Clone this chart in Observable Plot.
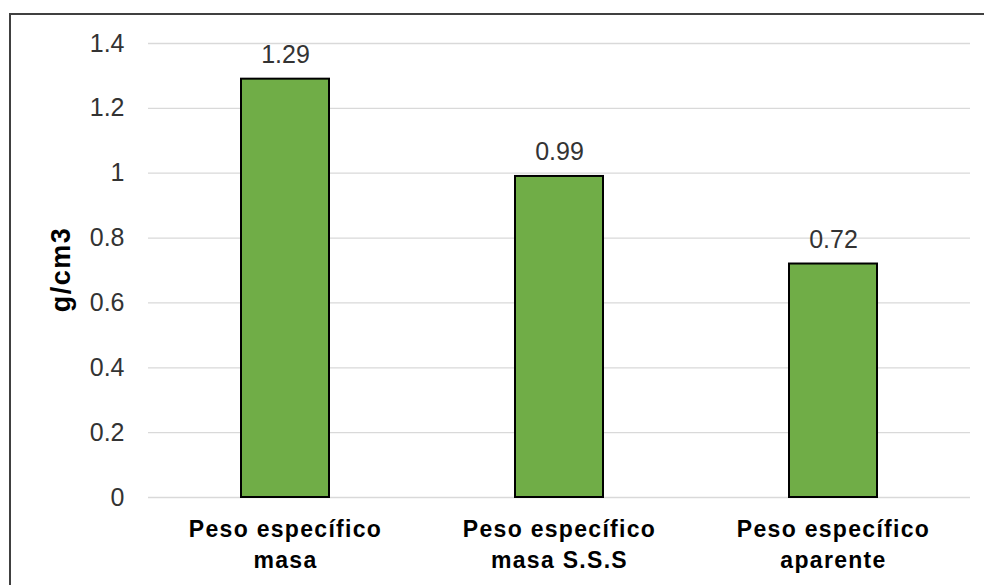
<!DOCTYPE html>
<html>
<head>
<meta charset="utf-8">
<script src="https://cdn.jsdelivr.net/npm/d3@7"></script>
<script src="https://cdn.jsdelivr.net/npm/@observablehq/plot@0.6"></script>
<style>
  html, body { margin: 0; padding: 0; background: #fff; }
  #wrap { position: relative; width: 984px; height: 585px; overflow: hidden; background: #fff; }
  #frame { position: absolute; left: 9px; top: 13px; width: 1100px; height: 700px; border: 2px solid #404040; box-sizing: border-box; }
  #chart { position: absolute; left: 0; top: 0; }
  #chart svg g[aria-label="x-axis tick label"] text { letter-spacing: 1.3px; }
  #chart svg g.ylab text { letter-spacing: 1.5px; }
</style>
</head>
<body>
<div id="wrap">
  <div id="frame"></div>
  <div id="chart"></div>
</div>
<script>
// Specific gravity of the aggregate (g/cm3)
const categories = [
  "Peso específico\nmasa",
  "Peso específico\nmasa S.S.S",
  "Peso específico\naparente"
];
const values = [1.29, 0.99, 0.72];
const yTicks = [0, 0.2, 0.4, 0.6, 0.8, 1, 1.2, 1.4];
const yLabel = "g/cm3";

const data = categories.map((category, i) => ({category, value: values[i]}));

const font = "'Liberation Sans', Arial, sans-serif";

const chart = Plot.plot({
  width: 984,
  height: 585,
  marginLeft: 148,
  marginRight: 14,
  marginTop: 43,
  marginBottom: 88,
  style: {fontFamily: font, background: "transparent", overflow: "visible"},
  x: {domain: categories, paddingInner: 0.68, paddingOuter: 0.34, label: null},
  y: {domain: [0, 1.4], label: null},
  marks: [
    Plot.gridY(yTicks, {stroke: "#d9d9d9", strokeOpacity: 1, strokeWidth: 1.3}),
    Plot.axisY(yTicks, {
      tickSize: 0, tickPadding: 24, fontSize: 25, fill: "#333",
      tickFormat: d => String(d), label: null
    }),
    Plot.axisX({
      tickSize: 0, tickPadding: 17, fontSize: 23, fontWeight: "bold",
      lineHeight: 1.37, fill: "#000", label: null
    }),
    Plot.barY(data, {x: "category", y: "value", fill: "#70ad47", stroke: "#000", strokeWidth: 2}),
    Plot.text(data, {
      x: "category", y: "value", text: d => d.value.toFixed(2),
      dy: -16, lineAnchor: "bottom", fontSize: 25, fill: "#333"
    }),
    Plot.text([yLabel], {
      text: d => d, frameAnchor: "left", dx: -87, dy: -1, rotate: -90,
      textAnchor: "middle", lineAnchor: "middle",
      fontSize: 27, fontWeight: "bold", fill: "#000", className: "ylab"
    })
  ]
});

document.getElementById("chart").appendChild(chart);
</script>
</body>
</html>
